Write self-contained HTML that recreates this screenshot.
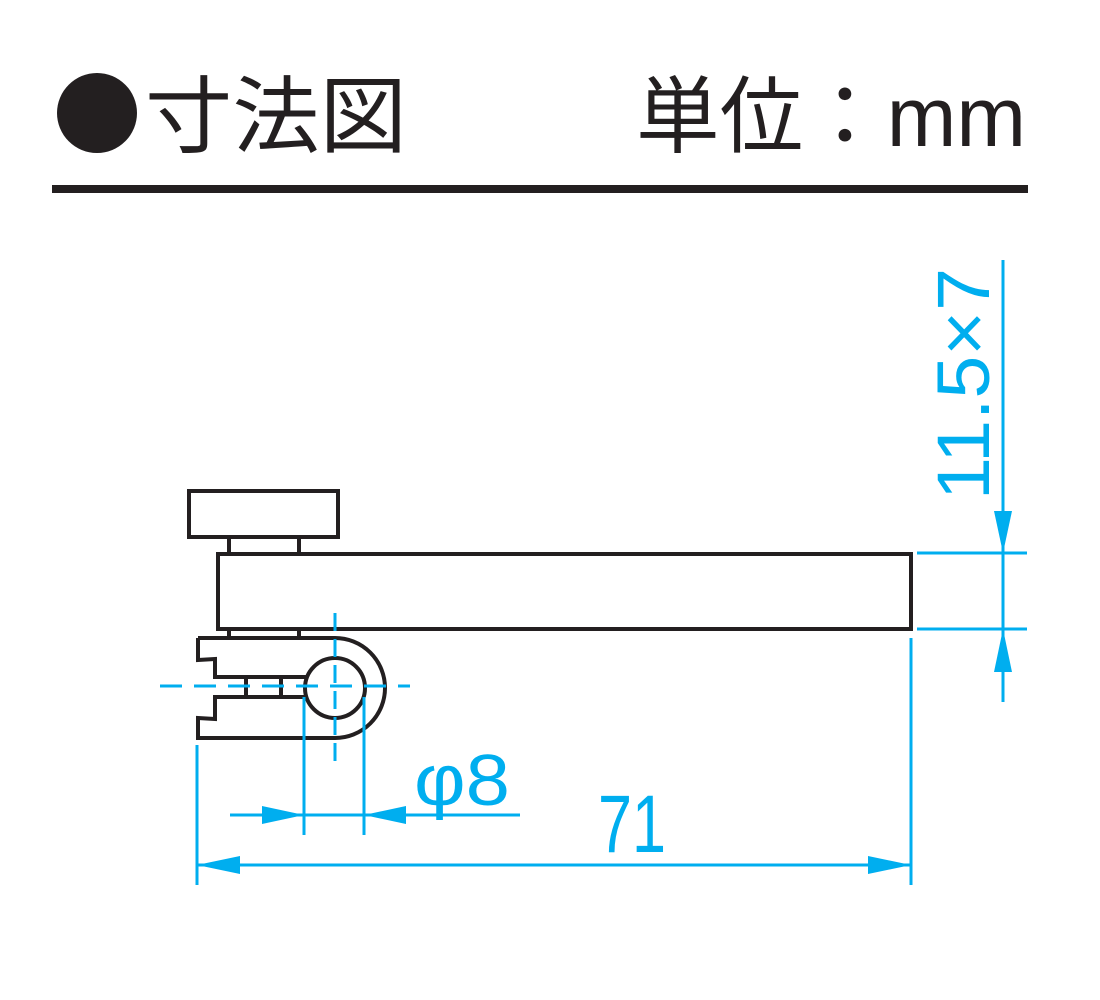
<!DOCTYPE html>
<html><head><meta charset="utf-8"><style>
html,body{margin:0;padding:0;background:#fff;}
svg{display:block}
</style></head><body>
<svg width="1100" height="1000" viewBox="0 0 1100 1000" xmlns="http://www.w3.org/2000/svg">
<circle cx="97" cy="113" r="40" fill="#231f20"/>
<text x="145" y="146" font-family="Liberation Sans, Noto Sans CJK JP, sans-serif" font-size="84" fill="#231f20" textLength="262" lengthAdjust="spacingAndGlyphs">寸法図</text>
<text x="636" y="146" font-family="Liberation Sans, Noto Sans CJK JP, sans-serif" font-size="84" fill="#231f20" textLength="390" lengthAdjust="spacingAndGlyphs">単位：mm</text>
<rect x="52" y="185" width="976" height="8" fill="#231f20"/>
<g fill="none" stroke="#231f20" stroke-width="4">
<rect x="189" y="491" width="149" height="46"/>
<line x1="229" y1="538" x2="229" y2="553"/><line x1="299" y1="538" x2="299" y2="553"/>
<rect x="218" y="554" width="693" height="75"/>
<line x1="229" y1="629" x2="229" y2="638"/><line x1="299" y1="629" x2="299" y2="638"/>
<path d="M198 638 L335 638 A50 50 0 0 1 335 738 L198 738 L198 718 L215 719 L215 697 L307 697 M307 677 L215 677 L215 659 L198 660 L198 638"/>
<circle cx="335" cy="688" r="30"/>
<line x1="246" y1="677" x2="246" y2="697"/><line x1="281" y1="677" x2="281" y2="697"/>
</g>
<g stroke="#00aeef" stroke-width="3" fill="none">
<line x1="160" y1="686" x2="410" y2="686" stroke-dasharray="22,12"/>
<line x1="335" y1="613" x2="335" y2="762" stroke-dasharray="18,8"/>
<line x1="197" y1="745" x2="197" y2="885"/>
<line x1="304" y1="697" x2="304" y2="835"/>
<line x1="364" y1="697" x2="364" y2="835"/>
<line x1="911" y1="638" x2="911" y2="885"/>
<line x1="230" y1="815" x2="520" y2="815"/>
<line x1="197" y1="865" x2="911" y2="865"/>
<line x1="1003" y1="260" x2="1003" y2="702"/>
<line x1="917" y1="553" x2="1027" y2="553"/>
<line x1="917" y1="629" x2="1027" y2="629"/>
</g>
<g fill="#00aeef">
<polygon points="304,815 262,806 262,824"/>
<polygon points="364,815 406,806 406,824"/>
<polygon points="197,865 240,856 240,874"/>
<polygon points="911,865 868,856 868,874"/>
<polygon points="1003,553 994,511 1012,511"/>
<polygon points="1003,629 994,672 1012,672"/>
<text x="414" y="805" font-family="Liberation Sans, sans-serif" font-size="72" textLength="96" lengthAdjust="spacingAndGlyphs">φ8</text>
<text x="598" y="852" font-family="Liberation Sans, sans-serif" font-size="82" textLength="68" lengthAdjust="spacingAndGlyphs">71</text>
<text transform="translate(989,500) rotate(-90)" font-family="Liberation Sans, sans-serif" font-size="74" textLength="232" lengthAdjust="spacingAndGlyphs">11.5×7</text>
</g>
</svg>
</body></html>
